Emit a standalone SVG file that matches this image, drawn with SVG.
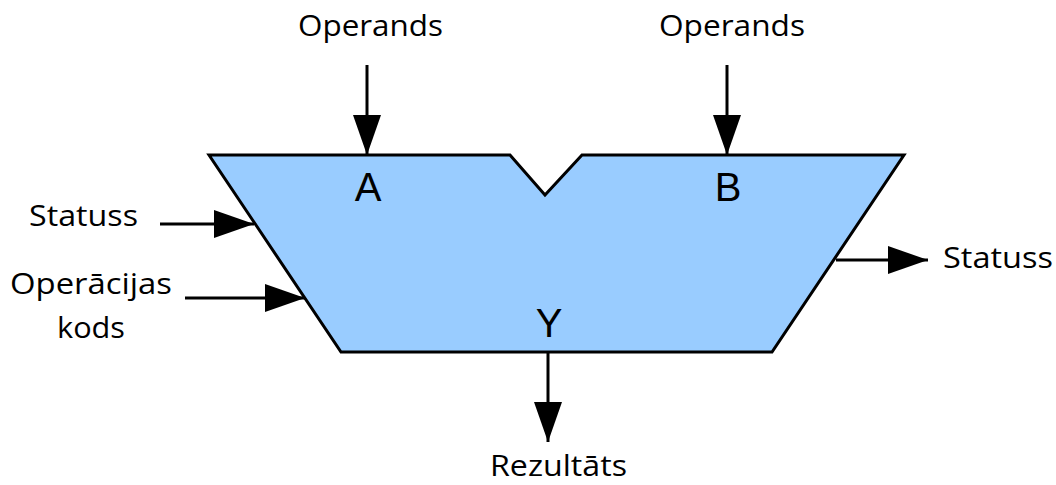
<svg xmlns="http://www.w3.org/2000/svg" width="1056" height="485" viewBox="0 0 1056 485">
<style>
.lbl{font-family:"Open Sans","Liberation Sans",sans-serif;font-size:29px;fill:#000}
.port{font-family:"Liberation Sans",Arial,sans-serif;font-size:40px;fill:#000;text-anchor:middle}
.wire{stroke:#000;stroke-width:3;fill:none}
</style>
<defs>
<marker id="ah" viewBox="0 0 40 28" refX="40" refY="14" markerWidth="40" markerHeight="28" markerUnits="userSpaceOnUse" orient="auto">
<path d="M0,0 L40,14 L0,28 Z" fill="#000"/>
</marker>
</defs>
<rect width="1056" height="485" fill="#fff"/>
<g id="alu">
<path d="M209,155 L510,155 L545,195 L582,155 L904,155 L772,352 L341,352 Z" fill="#99ccff" stroke="#000" stroke-width="3" stroke-linejoin="miter"/>
<text class="port" x="368" y="201">A</text>
<text class="port" x="728" y="201">B</text>
<text class="port" x="549" y="337">Y</text>
</g>
<g id="connectors">
<line class="wire" x1="367" y1="65" x2="367" y2="155" marker-end="url(#ah)"/>
<line class="wire" x1="727" y1="65" x2="727" y2="155" marker-end="url(#ah)"/>
<line class="wire" x1="160" y1="224" x2="254" y2="224" marker-end="url(#ah)"/>
<line class="wire" x1="185" y1="298" x2="305" y2="298" marker-end="url(#ah)"/>
<line class="wire" x1="836" y1="260" x2="928" y2="260" marker-end="url(#ah)"/>
<line class="wire" x1="548" y1="352" x2="548" y2="442" marker-end="url(#ah)"/>
</g>
<g id="labels">
<text class="lbl" x="298" y="36" textLength="145" lengthAdjust="spacingAndGlyphs">Operands</text>
<text class="lbl" x="659" y="36" textLength="146" lengthAdjust="spacingAndGlyphs">Operands</text>
<text class="lbl" x="29" y="226" textLength="109" lengthAdjust="spacingAndGlyphs">Statuss</text>
<text class="lbl" x="10" y="294" textLength="162" lengthAdjust="spacingAndGlyphs">Operācijas</text>
<text class="lbl" x="57" y="338" textLength="68" lengthAdjust="spacingAndGlyphs">kods</text>
<text class="lbl" x="943" y="268" textLength="110" lengthAdjust="spacingAndGlyphs">Statuss</text>
<text class="lbl" x="490" y="476" textLength="137" lengthAdjust="spacingAndGlyphs">Rezultāts</text>
</g>
</svg>
